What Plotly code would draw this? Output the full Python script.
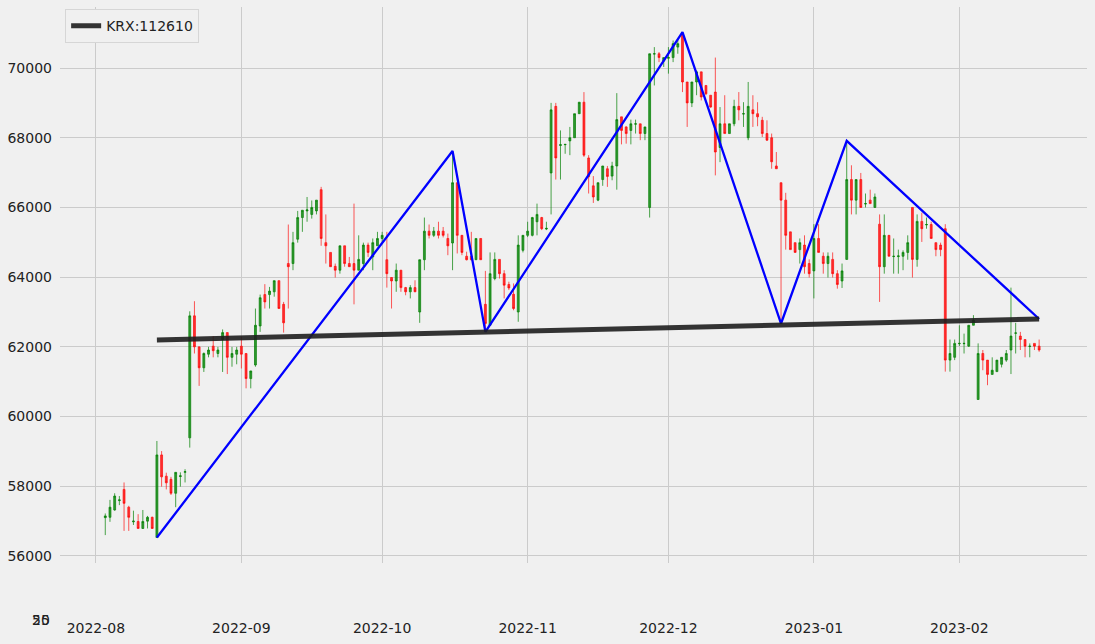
import pandas as pd
import plotly.graph_objects as go

# ---------------- data ----------------
start_date = "2022-08-03"
n_days = 200

opens = [
    57100, 57110, 57320, 57590, 57910, 57400, 56980, 56990, 56790, 57000,
    57110, 56530, 58900, 58290, 58200, 57800, 58280, 58400, 59390, 62890,
    62000, 61400, 61790, 62020, 61810, 62210, 62410, 61700, 61790, 62020,
    61810, 61090, 61480, 62600, 63500, 63500, 63580, 63900, 63220, 64390,
    64390, 65090, 65710, 65900, 65800, 65900, 66510, 64990, 64710, 64310,
    64200, 64900, 64390, 64390, 64200, 64390, 64920, 64580, 64900, 65110,
    64500, 63990, 63890, 64200, 63700, 63580, 63700, 63000, 64500, 65320,
    65200, 65320, 65320, 65110, 64980, 66710, 65200, 64600, 64600, 64500,
    65110, 63220, 62620, 63960, 64510, 64100, 63790, 63510, 63000, 64770,
    65200, 65200, 65590, 65710, 65380, 66990, 68900, 67780, 67800, 67910,
    68000, 68690, 69020, 67420, 66620, 66210, 66800, 67110, 66900, 67190,
    68600, 68310, 68210, 68390, 68400, 68120, 66000, 70400, 70410, 70200,
    70280, 70300, 70600, 70980, 69600, 69000, 69600, 69890, 69500, 69220,
    69310, 67720, 68400, 68120, 68400, 68900, 68680, 68000, 68800, 68690,
    68500, 68120, 68000, 67190, 66710, 66210, 65300, 64990, 64790, 64920,
    64390, 64180, 65110, 64600, 64390, 64510, 64100, 63890, 64510, 66800,
    66210, 66800, 66100, 66210, 66000, 65520, 64300, 65200, 64590, 64590,
    64600, 64710, 66000, 64510, 65600, 65500, 65510, 64990, 64920, 65390,
    61620, 61700, 62090, 62090, 62020, 62620, 60490, 61810, 61620, 61210,
    61290, 61500, 61620, 61910, 62390, 62310, 62210, 62010, 62100, 62020,
]

highs = [
    57220, 57610, 57800, 57720, 58110, 57440, 57300, 57200, 57320, 57150,
    57130, 59300, 59010, 58390, 58270, 58400, 58400, 58490, 63020, 63310,
    62000, 61840, 62000, 62310, 62000, 62500, 62410, 62000, 62000, 62290,
    61810, 61310, 63100, 63500, 63800, 63720, 63900, 63900, 63290, 65510,
    65300, 65900, 65920, 66300, 66200, 66210, 66590, 65800, 64710, 64390,
    64900, 64900, 64580, 66110, 65200, 64990, 64990, 65110, 65300, 65300,
    65300, 63990, 64390, 64200, 63720, 63770, 63910, 64500, 65710, 65510,
    65440, 65590, 65440, 65250, 67620, 66710, 65200, 64730, 65300, 65110,
    65110, 64180, 64710, 64710, 64510, 64200, 63870, 63820, 65200, 65200,
    65590, 65730, 66110, 65730, 65590, 69000, 69000, 68210, 67810, 68310,
    68690, 69020, 69310, 67500, 66900, 66710, 67190, 67190, 67310, 69280,
    68600, 68330, 68520, 68520, 68400, 68310, 70410, 70600, 70460, 70300,
    70600, 70790, 70840, 71030, 69600, 69600, 69930, 69890, 69500, 69220,
    70300, 68880, 69220, 68400, 69090, 69310, 69020, 69600, 69220, 69020,
    68600, 68500, 68120, 67590, 66710, 66420, 65300, 64990, 65110, 65200,
    64510, 65520, 65520, 64710, 64710, 64710, 64200, 64390, 67910, 67210,
    66800, 66990, 66400, 66510, 66400, 65800, 65800, 65200, 65110, 64790,
    64770, 65200, 66000, 65800, 65850, 65710, 65590, 64990, 64990, 65520,
    62210, 62210, 62620, 62380, 62620, 62910, 62100, 61910, 61620, 61700,
    61620, 61700, 61910, 63700, 62690, 62430, 62210, 62100, 62100, 62210,
]

lows = [
    56600, 56980, 57300, 57460, 56720, 56720, 56890, 56790, 56780, 56790,
    56780, 56530, 57990, 57910, 57750, 57400, 57990, 58110, 59110, 61810,
    60880, 61280, 61700, 61700, 61700, 61280, 61220, 61430, 61500, 61380,
    60810, 60810, 61430, 62430, 63100, 63100, 63440, 63100, 62410, 63100,
    64200, 64990, 65300, 65590, 65680, 65800, 64900, 64390, 64300, 63990,
    64100, 64300, 64300, 63220, 64200, 64200, 64580, 64200, 64900, 65000,
    63700, 63100, 63580, 63580, 63480, 63390, 63580, 62690, 64200, 65110,
    65150, 65110, 65140, 64630, 64200, 64680, 64630, 64480, 64480, 64500,
    64500, 62430, 62600, 63910, 63960, 63390, 63630, 63050, 62720, 64710,
    65150, 65170, 65200, 65350, 65350, 65800, 66800, 66800, 67540, 67500,
    68000, 68690, 67450, 66400, 66130, 66180, 66620, 66590, 66780, 66510,
    67810, 67830, 67810, 68120, 67930, 67930, 65710, 69500, 70170, 70030,
    69840, 70170, 70410, 69310, 68310, 68880, 69220, 69070, 69220, 68860,
    66920, 67300, 68120, 68120, 68330, 68500, 68310, 67930, 68310, 68330,
    68020, 67910, 67110, 67110, 62670, 64790, 64790, 64710, 64390, 64100,
    63990, 63390, 64710, 64100, 63990, 63990, 63670, 63690, 64500, 65800,
    65800, 66000, 66000, 66110, 66000, 63290, 64100, 64600, 64100, 64100,
    64200, 64500, 63990, 64300, 65010, 65390, 65110, 64600, 64600, 61290,
    61290, 61620, 62020, 61810, 62000, 62620, 60490, 61330, 60900, 61210,
    61290, 61410, 61570, 61220, 61810, 61910, 61700, 61700, 61910, 61860,
]

closes = [
    57150, 57400, 57720, 57610, 57510, 57110, 57000, 56790, 56990, 57110,
    56790, 58900, 58270, 58100, 57800, 58400, 58300, 58420, 62890, 62000,
    61400, 61810, 61910, 61890, 61910, 62410, 61700, 61810, 61910, 61790,
    61090, 61310, 62620, 63410, 63290, 63600, 63900, 63100, 62690, 64300,
    64990, 65710, 65920, 65930, 66000, 66210, 65110, 64900, 64300, 64200,
    64900, 64390, 64300, 64200, 64510, 64920, 64710, 64990, 65110, 65200,
    64100, 63890, 64200, 63700, 63580, 63700, 63580, 64500, 65320, 65200,
    65320, 65200, 65200, 64900, 66710, 65200, 64710, 64500, 64500, 65110,
    64500, 62670, 64100, 64510, 64100, 63770, 63690, 63100, 64920, 65200,
    65320, 65710, 65800, 65390, 65400, 68800, 67420, 67800, 67810, 68000,
    68690, 69020, 67500, 66880, 66300, 66710, 67190, 66890, 67190, 68520,
    68210, 68120, 68400, 68400, 68120, 68310, 70410, 70410, 70300, 70300,
    70300, 70700, 70700, 69600, 69000, 69600, 69890, 69170, 69260, 68880,
    67590, 68400, 68120, 68400, 68900, 68800, 68690, 68900, 68690, 68600,
    68120, 67930, 67310, 67110, 66210, 65200, 64790, 64710, 64990, 64300,
    64100, 65110, 64710, 64390, 64600, 64100, 63790, 64180, 66800, 66210,
    66800, 66000, 66110, 66110, 66300, 64300, 65200, 64600, 64600, 64610,
    64710, 64990, 64510, 65600, 65390, 65510, 65110, 64790, 64790, 61620,
    61810, 62100, 62100, 62100, 62620, 62770, 61810, 61620, 61210, 61330,
    61620, 61700, 61810, 62310, 62400, 62210, 62020, 62020, 62020, 61910,
]

# zig-zag pivot points (blue line)
zigzag_dates = ["2022-08-14", "2022-10-16", "2022-10-23", "2022-12-04",
                "2022-12-25", "2023-01-08", "2023-02-18"]
zigzag_values = [56530, 67620, 62430, 71030, 62670, 67910, 62800]

# neckline / trend line (black)
trend_dates = ["2022-08-14", "2023-02-18"]
trend_values = [62200, 62800]
trend_label = "KRX:112610"

y_tick_values = [56000, 58000, 60000, 62000, 64000, 66000, 68000, 70000]

# ---------------- figure ----------------
dates = pd.date_range(start_date, periods=n_days, freq="D")

BG = "#f0f0f0"
GRID = "#cbcbcb"
FONT = "DejaVu Sans, Liberation Sans, sans-serif"

fig = go.Figure()

fig.add_trace(go.Candlestick(
    x=dates, open=opens, high=highs, low=lows, close=closes,
    increasing=dict(line=dict(color="rgba(0,128,0,0.7)", width=1),
                    fillcolor="rgba(0,128,0,0.8)"),
    decreasing=dict(line=dict(color="rgba(255,0,0,0.65)", width=1),
                    fillcolor="rgba(255,0,0,0.8)"),
    whiskerwidth=0,
    showlegend=False,
    hoverinfo="skip",
))

fig.add_trace(go.Scatter(
    x=zigzag_dates, y=zigzag_values, mode="lines",
    line=dict(color="#0000ff", width=2.3),
    showlegend=False, hoverinfo="skip",
))

fig.add_trace(go.Scatter(
    x=trend_dates, y=trend_values, mode="lines",
    line=dict(color="rgba(30,30,30,0.9)", width=5),
    name=trend_label, showlegend=True, hoverinfo="skip",
))

origin = pd.Timestamp("2022-08-01")
x0 = origin + pd.Timedelta(days=-7.65)
x1 = origin + pd.Timedelta(days=211.2)

fig.update_layout(
    width=1095, height=644,
    margin=dict(l=57, r=8, t=7, b=81),
    paper_bgcolor=BG, plot_bgcolor=BG,
    font=dict(family=FONT, size=14, color="#222222"),
    boxgap=0.42,
    showlegend=True,
    legend=dict(
        x=0.005, y=0.996, xanchor="left", yanchor="top",
        bgcolor="#f0f0f0", bordercolor="#d6d6d6", borderwidth=1,
        font=dict(family=FONT, size=14, color="#222222"),
        itemwidth=30, tracegroupgap=0,
    ),
    xaxis=dict(
        type="date",
        range=[x0, x1],
        rangeslider=dict(visible=False),
        tickformat="%Y-%m", dtick="M1", tick0="2022-08-01",
        showgrid=True, gridcolor=GRID, gridwidth=1,
        zeroline=False, showline=False, ticks="",
        ticklabelstandoff=55,
        tickfont=dict(family=FONT, size=14, color="#222222"),
    ),
    yaxis=dict(
        range=[55799, 71751],
        tickvals=y_tick_values,
        ticktext=[str(v) for v in y_tick_values],
        showgrid=True, gridcolor=GRID, gridwidth=1,
        zeroline=False, showline=False, ticks="",
        ticklabelstandoff=7,
        tickfont=dict(family=FONT, size=14, color="#222222"),
    ),
)

# stray overlapping tick labels at the bottom left (as in the original)
for txt in ["25", "50"]:
    fig.add_annotation(
        text=txt, xref="paper", yref="paper",
        x=-0.0075, y=-0.103, xanchor="right", yanchor="middle",
        showarrow=False,
        font=dict(family=FONT, size=14, color="#222222"),
    )

fig.write_html("out.html")
